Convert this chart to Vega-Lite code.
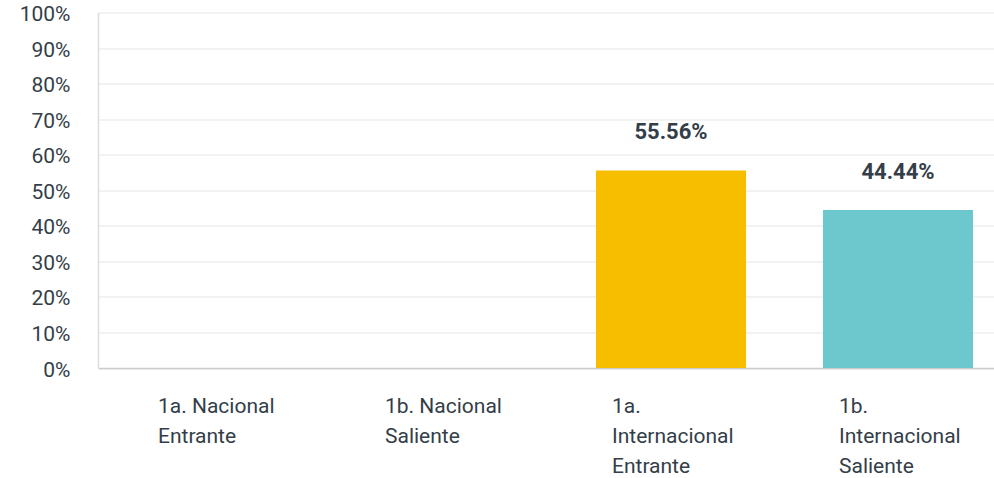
{
  "$schema": "https://vega.github.io/schema/vega-lite/v6.json",
  "autosize": {"type": "none"},
  "padding": {"left": 98, "top": 12.5, "right": 0, "bottom": 110},
  "width": 896,
  "height": 355.5,
  "background": "#ffffff",
  "config": {
    "view": {"stroke": null},
    "font": "Roboto",
    "axis": {"labelFont": "Roboto", "labelColor": "#333e48"}
  },
  "data": {
    "values": [
      {"categoria": "1a. Nacional Entrante", "valor": 0},
      {"categoria": "1b. Nacional Saliente", "valor": 0},
      {"categoria": "1a. Internacional Entrante", "valor": 0.5556},
      {"categoria": "1b. Internacional Saliente", "valor": 0.4444}
    ]
  },
  "encoding": {
    "x": {
      "field": "categoria",
      "type": "nominal",
      "sort": null,
      "scale": {"paddingInner": 0.339, "paddingOuter": 0.143, "align": 0.677},
      "axis": {
        "title": null,
        "labelAngle": 0,
        "ticks": false,
        "domainColor": "#cccccc",
        "domainWidth": 1.5,
        "labelFontSize": 21,
        "labelAlign": "left",
        "labelBaseline": "top",
        "labelOffset": -59,
        "labelPadding": 27,
        "labelLineHeight": 30,
        "labelLimit": 0,
        "labelExpr": "datum.value == '1a. Nacional Entrante' ? ['1a. Nacional', 'Entrante'] : datum.value == '1b. Nacional Saliente' ? ['1b. Nacional', 'Saliente'] : datum.value == '1a. Internacional Entrante' ? ['1a.', 'Internacional', 'Entrante'] : ['1b.', 'Internacional', 'Saliente']"
      }
    },
    "y": {
      "field": "valor",
      "type": "quantitative",
      "scale": {"domain": [0, 1], "nice": false},
      "axis": {
        "title": null,
        "format": ".0%",
        "values": [0, 0.1, 0.2, 0.3, 0.4, 0.5, 0.6, 0.7, 0.8, 0.9, 1],
        "ticks": false,
        "domainColor": "#dddddd",
        "domainWidth": 1.5,
        "gridColor": "#eeeeee",
        "gridWidth": 1.5,
        "labelFontSize": 21,
        "labelPadding": 28,
        "labelOffset": 2
      }
    }
  },
  "layer": [
    {
      "mark": {"type": "bar"},
      "encoding": {
        "color": {
          "field": "categoria",
          "type": "nominal",
          "legend": null,
          "scale": {
            "domain": ["1a. Nacional Entrante", "1b. Nacional Saliente", "1a. Internacional Entrante", "1b. Internacional Saliente"],
            "range": ["#f7be00", "#6cc8cc", "#f7be00", "#6cc8cc"]
          }
        }
      }
    },
    {
      "transform": [{"filter": "datum.valor > 0"}],
      "mark": {"type": "text", "baseline": "alphabetic", "dy": -31, "fontSize": 22, "fontWeight": "bold", "color": "#333e48"},
      "encoding": {
        "text": {"field": "valor", "type": "quantitative", "format": ".2%"}
      }
    }
  ]
}
